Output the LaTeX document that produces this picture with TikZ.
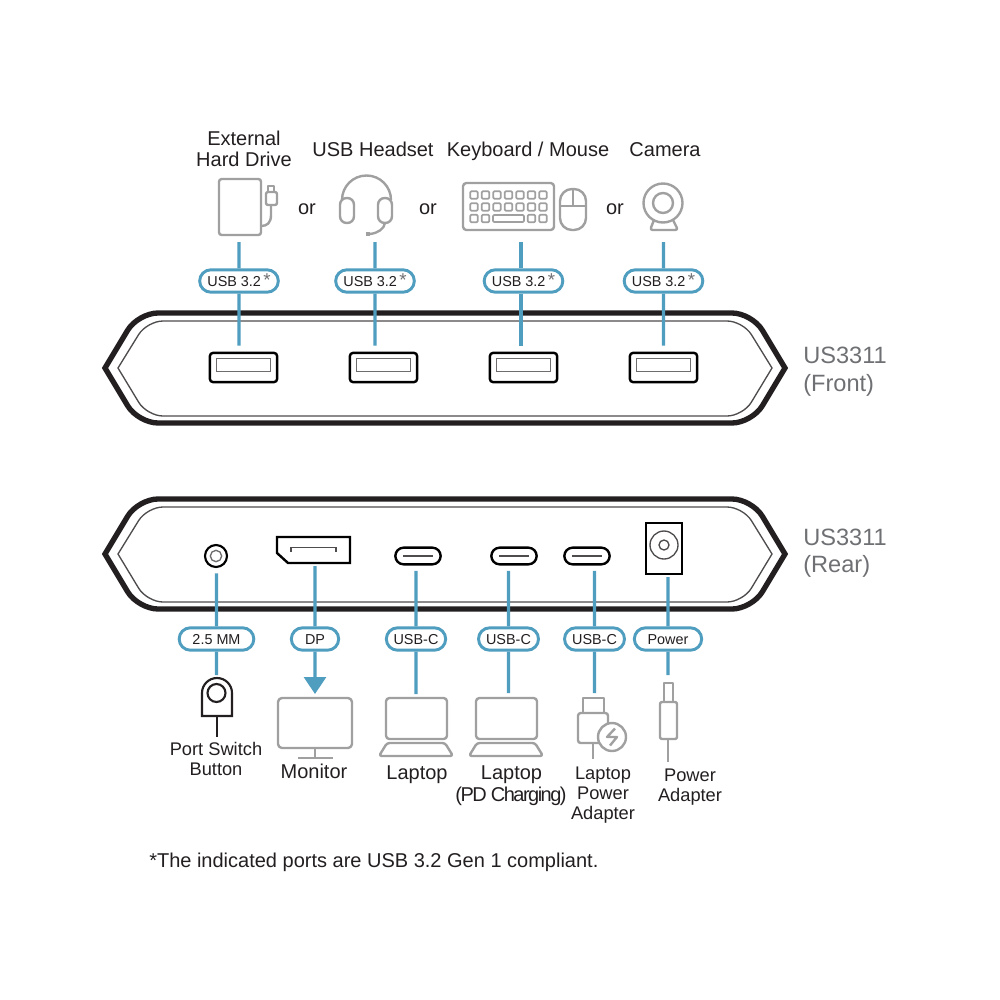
\documentclass[tikz,border=0pt]{standalone}
\usepackage{fontspec}
\setmainfont{Liberation Sans}
\newfontfamily\tightfont[LetterSpace=-7.5]{Liberation Sans}
\usepackage{xcolor}
\usetikzlibrary{positioning, arrows.meta, shapes.misc}
\definecolor{linkblue}{HTML}{4F9DBF}
\definecolor{icongray}{HTML}{A0A0A0}
\definecolor{inkblack}{HTML}{231F20}
\definecolor{modelgray}{HTML}{6F7073}
\newcommand{\usbtext}{USB 3.2\,\textcolor{modelgray}{\raisebox{-.5pt}{\fontsize{14}{14}\selectfont *}}}

\begin{document}
\begin{tikzpicture}[
    % GLOBAL CFG
    x=.75pt, y=-.75pt,
    font=\fontsize{15}{15.75}\selectfont,
    text=inkblack,
    % Styles
    bodyouter/.style={% For the thick case outline
        draw=inkblack,
        line width=4pt,
        miter limit=10,
        },
    bodyinner/.style={% For the thin line inside the case
        draw=inkblack!80,
        line width=1pt,
        },
    usbport/.style={% For the front ports
        rectangle,
        draw=black,
        rounded corners=2.5pt,
        line width=1.8pt,
        minimum width=50.5pt,
        minimum height=22pt,
        inner sep=0pt,
        },
    usbslot/.style={% For the slot in a front port
        rectangle,
        draw=inkblack!65,
        line width=1.1pt,
        minimum width=40.5pt,
        minimum height=10pt,
        inner sep=0pt,
        },
    cport/.style={% For the USB-C ports
        rounded rectangle,
        draw=black,
        line width=1.8pt,
        minimum width=34pt,
        minimum height=12.5pt,
        inner sep=0pt,
        },
    pill/.style={% For the labels on the connectors
        rounded rectangle,
        draw=linkblue,
        fill=white,
        line width=2.2pt,
        minimum height=16.8pt,
        inner sep=0pt,
        text height=7.7pt,
        text depth=0pt,
        font=\fontsize{10.8}{12}\selectfont,
        },
    link/.style={% Blue connectors
        draw=linkblue,
        line width=2.3pt,
        },
    icon/.style={% Gray device pictures
        draw=icongray,
        line width=1.8pt,
        line join=round,
        },
    keycap/.style={% Keys of the keyboard
        icon,
        rectangle,
        rounded corners=.8pt,
        line width=1.3pt,
        minimum width=5.6pt,
        minimum height=5.6pt,
        inner sep=0pt,
        },
    blackicon/.style={% The button is black, not gray
        draw=inkblack,
        line width=1.6pt,
        },
    devlabel/.style={% For the device names
        align=center,
        inner sep=0pt,
        },
    smalllabel/.style={% For the smaller device names
        devlabel,
        font=\fontsize{13.7}{15}\selectfont,
        },
    model/.style={% For the model names
        anchor=west,
        inner sep=0pt,
        text=modelgray,
        font=\fontsize{17.7}{17.7}\selectfont,
        },
    ]

    \useasboundingbox (0,0) rectangle (1000,1000);

    % Draw the two cases
    \foreach \cy in {368,554}{
        \begin{scope}[shift={(0,\cy)}]
            \draw [bodyouter] (105,0) [rounded corners=15pt] -- (138,-55) -- (752,-55) [sharp corners] -- (785,0) [rounded corners=15pt] -- (752,55) -- (138,55) [sharp corners] -- cycle;
            \draw [bodyinner] (118,0) [rounded corners=12pt] -- (147,-47) -- (743,-47) [sharp corners] -- (772,0) [rounded corners=12pt] -- (743,48) -- (147,48) [sharp corners] -- cycle;
        \end{scope}
    }

    % Model names
    \node [model] (front1) at (803,355) {US3311};
    \node [model] (front2) at (803,385) {(Front)};
    \node [model] (rear1) at (803,537) {US3311};
    \node [model] (rear2) at (803,566) {(Rear)};

    % Front ports named port#
    \node [usbport] (port1) at (243.5,367.5) {};
    \node [usbport] (port2) at (383.5,367.5) {};
    \node [usbport] (port3) at (523.5,367.5) {};
    \node [usbport] (port4) at (663.5,367.5) {};
    \node [usbslot] (slot1) at (243.5,365) {};
    \node [usbslot] (slot2) at (383.5,365) {};
    \node [usbslot] (slot3) at (523.5,365) {};
    \node [usbslot] (slot4) at (663.5,365) {};

    % Labels on the front connectors
    \node [pill, minimum width=59pt] (pill1) at (239,281) {\usbtext};
    \node [pill, minimum width=59pt] (pill2) at (375,281) {\usbtext};
    \node [pill, minimum width=59pt] (pill3) at (523.5,281) {\usbtext};
    \node [pill, minimum width=59pt] (pill4) at (663.5,281) {\usbtext};

    % Device names, top row
    \node [devlabel] (hddname) at (244,149) {External\\Hard Drive};
    \node [devlabel] (headsetname) at (373,149) {USB Headset};
    \node [devlabel] (keysname) at (528,151.5) {Keyboard / Mouse};
    \node [devlabel] (camname) at (665,150) {Camera};
    \node [devlabel] (or1) at (307,209) {or};
    \node [devlabel] (or2) at (428,209) {or};
    \node [devlabel] (or3) at (615,209) {or};

    % Hard drive
    \draw [icon, rounded corners=2pt] (219,179) rectangle (261,235);
    \draw [icon, rounded corners=1.5pt] (266,192) rectangle (277,205);
    \draw [icon] (268,192) -- (268,186) -- (274,186) -- (274,192);
    \draw [icon] (271,205) -- (271,215) .. controls (271,223) and (267,226) .. (261,226);

    % Headset
    \draw [icon] (342,200) arc (180:360:24.5);
    \draw [icon, rounded corners=5pt] (340,198) rectangle (354,223);
    \draw [icon, rounded corners=5pt] (378,198) rectangle (392,223);
    \draw [icon] (385,223) .. controls (384,229) and (378,233) .. (370,234);
    \draw [icon, line width=3.6pt] (365.5,234) -- (370,234);

    % Keyboard and mouse
    \draw [icon, rounded corners=2.5pt] (463,183) rectangle (554,230);
    \foreach \kx in {474,485.5,497,508.5,520,531.5,543}{
        \node [keycap] at (\kx,195) {};
        \node [keycap] at (\kx,207) {};
    }
    \foreach \kx in {474,485.5,531.5,543}{
        \node [keycap] at (\kx,218.5) {};
    }
    \draw [icon, rounded corners=.8pt, line width=1.3pt] (493,215) rectangle (524,222);
    \draw [icon, rounded corners=9pt] (560,189) rectangle (586,230);
    \draw [icon, line width=1.3pt] (573,189) -- (573,206);
    \draw [icon, line width=1.3pt] (560,206) -- (586,206);

    % Camera
    \draw [icon] (663,203) circle (19.5);
    \draw [icon] (663,203) circle (10);
    \draw [icon, rounded corners=2pt] (654,220) -- (650,230) -- (678,230) -- (673,220);

    % Start connecting the front.
    \draw [link] (pill1) -- (pill1 |- 0,242);
    \draw [link] (pill2) -- (pill2 |- 0,242);
    \draw [link] (521,0 |- pill3.north) -- (521,242);
    \draw [link] (pill4) -- (pill4 |- 0,242);
    \draw [link, shorten >=4.5pt] (pill1) -- (pill1 |- port1.north);
    \draw [link, shorten >=4.5pt] (pill2) -- (pill2 |- port2.north);
    \draw [link, shorten >=4.5pt] (521,0 |- pill3.south) -- (521,0 |- port3.north);
    \draw [link, shorten >=4.5pt] (pill4) -- (pill4 |- port4.north);

    % Rear ports
    \node [circle, draw=black, line width=1.6pt, minimum size=16.5pt, inner sep=0pt] (jack) at (216,556) {};
    \node [circle, draw=inkblack!65, line width=1pt, minimum size=8.5pt, inner sep=0pt] (jackhole) at (216,556) {};
    \draw [draw=black, line width=1.8pt] (277,537) -- (350,537) -- (350,563) -- (288,563) -- (277,553) -- cycle;
    \draw [bodyinner] (291,552) -- (291,547.5) -- (336,547.5) -- (336,552);
    \coordinate (dpport) at (315,566);
    \node [cport] (cport1) at (418,556) {};
    \node [cport] (cport2) at (514,556) {};
    \node [cport] (cport3) at (587,556) {};
    \draw [bodyinner] (cport1.center) +(-15,0) -- +(15,0);
    \draw [bodyinner] (cport2.center) +(-15,0) -- +(15,0);
    \draw [bodyinner] (cport3.center) +(-15,0) -- +(15,0);
    \node [rectangle, draw=black, line width=1.8pt, minimum width=27pt, minimum height=38pt, inner sep=0pt] (powerport) at (664,548.5) {};
    \node [circle, draw=inkblack!80, line width=1pt, minimum size=21pt, inner sep=0pt] (powerring) at (664,545) {};
    \node [circle, draw=inkblack!80, line width=1pt, minimum size=7.5pt, inner sep=0pt] (powerhole) at (664,545) {};

    % Labels on the rear connectors
    \node [pill, minimum width=56pt] (pill5) at (216.5,639) {2.5 MM};
    \node [pill, minimum width=35.5pt] (pill6) at (315,639) {DP};
    \node [pill, minimum width=44.5pt] (pill7) at (416,639) {USB-C};
    \node [pill, minimum width=45pt] (pill8) at (508.5,639) {USB-C};
    \node [pill, minimum width=45pt] (pill9) at (594.5,639) {USB-C};
    \node [pill, minimum width=50.5pt] (pill10) at (668,639) {Power};

    % Port switch button
    \draw [blackicon] (202,716) -- (202,693) arc (180:360:15) -- (232,716) -- cycle;
    \draw [blackicon] (216.5,693) circle (9);
    \draw [blackicon] (217,716) -- (217,737);
    \node [smalllabel] (buttonname) at (216,759) {Port Switch\\Button};

    % Monitor
    \draw [icon, rounded corners=3pt] (278,698) rectangle (352,748);
    \draw [icon] (315,748) -- (315,758);
    \draw [icon] (298,758) -- (333,758);
    \node [devlabel] (monitorname) at (314,771) {Monitor};

    % Laptops
    \foreach \lx in {0,90}{
        \begin{scope}[shift={(\lx,0)}]
            \draw [icon, rounded corners=2.5pt] (386,698) rectangle (447,739);
            \draw [icon, rounded corners=2pt] (387,743) -- (445,743) -- (453,756) -- (379,756) -- cycle;
        \end{scope}
    }
    \node [devlabel] (laptopname) at (417,775) {Laptop};
    \node [devlabel] (pdname) at (511.5,775) {Laptop};
    \node [devlabel] (pdname2) at (511,796) {\tightfont (PD Charging)};

    % Laptop power adapter
    \draw [icon] (583,713) -- (583,698) -- (604,698) -- (604,713);
    \draw [icon, rounded corners=2pt] (600,743) -- (578,743) -- (578,713) -- (608,713) -- (608,724);
    \draw [icon] (612,737) circle (14);
    \draw [icon] (615,728.5) -- (607,737) -- (617,737) -- (610,745.5);
    \draw [icon] (593,743) -- (593,759);
    \node [smalllabel] (adaptername) at (603,795) {Laptop\\Power\\Adapter};

    % Power adapter
    \draw [icon] (664,702) -- (664,683) -- (673,683) -- (673,702);
    \draw [icon, rounded corners=1.5pt] (660,702) rectangle (677,739);
    \draw [icon] (668,739) -- (668,762);
    \node [smalllabel] (powername) at (690,787) {Power\\Adapter};

    % Connect the rear, free ends are coordinates
    \coordinate (buttonend) at (216.5,675);
    \coordinate (monitorend) at (315,694);
    \coordinate (laptopend) at (416,694);
    \coordinate (pdend) at (508.5,693);
    \coordinate (adapterend) at (594.5,693);
    \coordinate (powerend) at (668,675);
    \draw [link, shorten >=4pt] (pill5) -- (pill5 |- jack.south);
    \draw [link] (pill6) -- (dpport);
    \draw [link, shorten >=4pt] (pill7) -- (pill7 |- cport1.south);
    \draw [link, shorten >=4pt] (pill8) -- (pill8 |- cport2.south);
    \draw [link, shorten >=4pt] (pill9) -- (pill9 |- cport3.south);
    \draw [link, shorten >=1.5pt] (pill10) -- (pill10 |- powerport.south);
    \draw [link] (pill5) -- (buttonend);
    \draw [link, -{Triangle[length=12.75pt,width=16.5pt,fill=linkblue]}] (pill6) -- (monitorend);
    \draw [link] (pill7) -- (laptopend);
    \draw [link] (pill8) -- (pdend);
    \draw [link] (pill9) -- (adapterend);
    \draw [link] (pill10) -- (powerend);

    % Footnote
    \node [anchor=west, inner sep=0pt, font=\fontsize{15}{15}\selectfont] (footnote) at (149,862) {*The indicated ports are USB 3.2 Gen 1 compliant.};

\end{tikzpicture}
\end{document}
